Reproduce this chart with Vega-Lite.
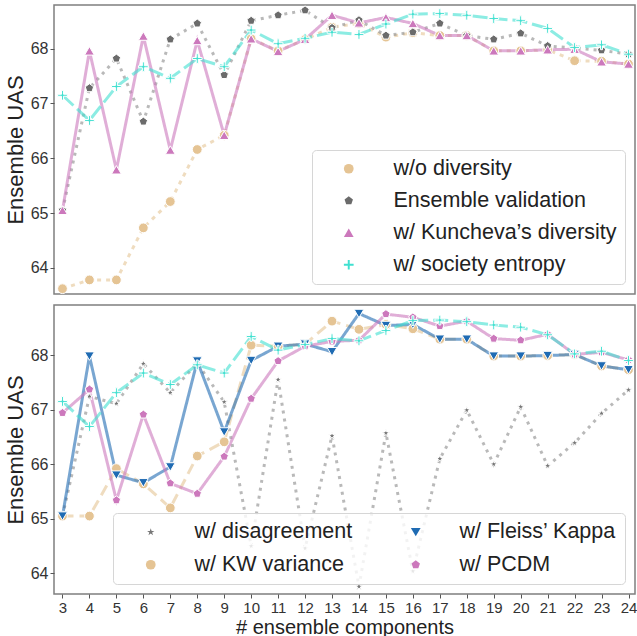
{
  "$schema": "https://vega.github.io/schema/vega-lite/v6.json",
  "padding": {"left": 3, "top": 3, "right": 0, "bottom": 0},
  "background": "white",
  "bounds": "flush",
  "config": {
    "font": "Liberation Sans",
    "view": {"stroke": "#7f7f7f", "strokeWidth": 1.5},
    "axis": {"labelFont": "Liberation Sans", "labelColor": "#333333", "tickColor": "#555555", "tickSize": 4, "domain": false, "grid": false, "titleFont": "Liberation Sans", "titleFontWeight": "normal", "titleColor": "#222222", "labelPadding": 2, "labelOverlap": false},
    "legend": {"labelFont": "Liberation Sans", "labelColor": "#222222", "labelFontSize": 21.5, "labelLimit": 400, "strokeColor": "#d6d6d6", "fillColor": "rgba(255,255,255,0.82)", "cornerRadius": 4, "padding": 8}
  },
  "datasets": {
    "a": [
      {"n": 3, "uas": 63.62, "method": "w/o diversity"},
      {"n": 4, "uas": 63.78, "method": "w/o diversity"},
      {"n": 5, "uas": 63.78, "method": "w/o diversity"},
      {"n": 6, "uas": 64.73, "method": "w/o diversity"},
      {"n": 7, "uas": 65.21, "method": "w/o diversity"},
      {"n": 8, "uas": 66.16, "method": "w/o diversity"},
      {"n": 9, "uas": 66.42, "method": "w/o diversity"},
      {"n": 10, "uas": 68.18, "method": "w/o diversity"},
      {"n": 11, "uas": 67.96, "method": "w/o diversity"},
      {"n": 12, "uas": 68.17, "method": "w/o diversity"},
      {"n": 13, "uas": 68.39, "method": "w/o diversity"},
      {"n": 14, "uas": 68.46, "method": "w/o diversity"},
      {"n": 15, "uas": 68.21, "method": "w/o diversity"},
      {"n": 16, "uas": 68.29, "method": "w/o diversity"},
      {"n": 17, "uas": 68.24, "method": "w/o diversity"},
      {"n": 18, "uas": 68.24, "method": "w/o diversity"},
      {"n": 19, "uas": 67.96, "method": "w/o diversity"},
      {"n": 20, "uas": 67.96, "method": "w/o diversity"},
      {"n": 21, "uas": 67.98, "method": "w/o diversity"},
      {"n": 22, "uas": 67.78, "method": "w/o diversity"},
      {"n": 23, "uas": 67.77, "method": "w/o diversity"},
      {"n": 24, "uas": 67.72, "method": "w/o diversity"},
      {"n": 3, "uas": 65.05, "method": "Ensemble validation"},
      {"n": 4, "uas": 67.28, "method": "Ensemble validation"},
      {"n": 5, "uas": 67.82, "method": "Ensemble validation"},
      {"n": 6, "uas": 66.67, "method": "Ensemble validation"},
      {"n": 7, "uas": 68.17, "method": "Ensemble validation"},
      {"n": 8, "uas": 68.46, "method": "Ensemble validation"},
      {"n": 9, "uas": 67.52, "method": "Ensemble validation"},
      {"n": 10, "uas": 68.51, "method": "Ensemble validation"},
      {"n": 11, "uas": 68.61, "method": "Ensemble validation"},
      {"n": 12, "uas": 68.70, "method": "Ensemble validation"},
      {"n": 13, "uas": 68.38, "method": "Ensemble validation"},
      {"n": 14, "uas": 68.52, "method": "Ensemble validation"},
      {"n": 15, "uas": 68.24, "method": "Ensemble validation"},
      {"n": 16, "uas": 68.30, "method": "Ensemble validation"},
      {"n": 17, "uas": 68.46, "method": "Ensemble validation"},
      {"n": 18, "uas": 68.24, "method": "Ensemble validation"},
      {"n": 19, "uas": 68.17, "method": "Ensemble validation"},
      {"n": 20, "uas": 68.28, "method": "Ensemble validation"},
      {"n": 21, "uas": 68.05, "method": "Ensemble validation"},
      {"n": 22, "uas": 68.01, "method": "Ensemble validation"},
      {"n": 23, "uas": 67.97, "method": "Ensemble validation"},
      {"n": 24, "uas": 67.90, "method": "Ensemble validation"},
      {"n": 3, "uas": 65.05, "method": "w/ Kuncheva’s diversity"},
      {"n": 4, "uas": 67.96, "method": "w/ Kuncheva’s diversity"},
      {"n": 5, "uas": 65.79, "method": "w/ Kuncheva’s diversity"},
      {"n": 6, "uas": 68.23, "method": "w/ Kuncheva’s diversity"},
      {"n": 7, "uas": 66.15, "method": "w/ Kuncheva’s diversity"},
      {"n": 8, "uas": 68.15, "method": "w/ Kuncheva’s diversity"},
      {"n": 9, "uas": 66.42, "method": "w/ Kuncheva’s diversity"},
      {"n": 10, "uas": 68.18, "method": "w/ Kuncheva’s diversity"},
      {"n": 11, "uas": 67.95, "method": "w/ Kuncheva’s diversity"},
      {"n": 12, "uas": 68.17, "method": "w/ Kuncheva’s diversity"},
      {"n": 13, "uas": 68.61, "method": "w/ Kuncheva’s diversity"},
      {"n": 14, "uas": 68.47, "method": "w/ Kuncheva’s diversity"},
      {"n": 15, "uas": 68.57, "method": "w/ Kuncheva’s diversity"},
      {"n": 16, "uas": 68.46, "method": "w/ Kuncheva’s diversity"},
      {"n": 17, "uas": 68.24, "method": "w/ Kuncheva’s diversity"},
      {"n": 18, "uas": 68.24, "method": "w/ Kuncheva’s diversity"},
      {"n": 19, "uas": 67.96, "method": "w/ Kuncheva’s diversity"},
      {"n": 20, "uas": 67.96, "method": "w/ Kuncheva’s diversity"},
      {"n": 21, "uas": 67.98, "method": "w/ Kuncheva’s diversity"},
      {"n": 22, "uas": 67.99, "method": "w/ Kuncheva’s diversity"},
      {"n": 23, "uas": 67.76, "method": "w/ Kuncheva’s diversity"},
      {"n": 24, "uas": 67.72, "method": "w/ Kuncheva’s diversity"},
      {"n": 3, "uas": 67.15, "method": "w/ society entropy"},
      {"n": 4, "uas": 66.69, "method": "w/ society entropy"},
      {"n": 5, "uas": 67.31, "method": "w/ society entropy"},
      {"n": 6, "uas": 67.67, "method": "w/ society entropy"},
      {"n": 7, "uas": 67.46, "method": "w/ society entropy"},
      {"n": 8, "uas": 67.82, "method": "w/ society entropy"},
      {"n": 9, "uas": 67.67, "method": "w/ society entropy"},
      {"n": 10, "uas": 68.34, "method": "w/ society entropy"},
      {"n": 11, "uas": 68.09, "method": "w/ society entropy"},
      {"n": 12, "uas": 68.19, "method": "w/ society entropy"},
      {"n": 13, "uas": 68.30, "method": "w/ society entropy"},
      {"n": 14, "uas": 68.26, "method": "w/ society entropy"},
      {"n": 15, "uas": 68.45, "method": "w/ society entropy"},
      {"n": 16, "uas": 68.63, "method": "w/ society entropy"},
      {"n": 17, "uas": 68.64, "method": "w/ society entropy"},
      {"n": 18, "uas": 68.61, "method": "w/ society entropy"},
      {"n": 19, "uas": 68.55, "method": "w/ society entropy"},
      {"n": 20, "uas": 68.51, "method": "w/ society entropy"},
      {"n": 21, "uas": 68.37, "method": "w/ society entropy"},
      {"n": 22, "uas": 68.02, "method": "w/ society entropy"},
      {"n": 23, "uas": 68.07, "method": "w/ society entropy"},
      {"n": 24, "uas": 67.90, "method": "w/ society entropy"}
    ],
    "b": [
      {"n": 3, "uas": 65.05, "methodB": "w/ disagreement"},
      {"n": 4, "uas": 67.24, "methodB": "w/ disagreement"},
      {"n": 5, "uas": 67.11, "methodB": "w/ disagreement"},
      {"n": 6, "uas": 67.84, "methodB": "w/ disagreement"},
      {"n": 7, "uas": 67.31, "methodB": "w/ disagreement"},
      {"n": 8, "uas": 67.85, "methodB": "w/ disagreement"},
      {"n": 9, "uas": 67.14, "methodB": "w/ disagreement"},
      {"n": 10, "uas": 64.50, "methodB": "w/ disagreement"},
      {"n": 11, "uas": 67.55, "methodB": "w/ disagreement"},
      {"n": 12, "uas": 64.46, "methodB": "w/ disagreement"},
      {"n": 13, "uas": 66.52, "methodB": "w/ disagreement"},
      {"n": 14, "uas": 63.76, "methodB": "w/ disagreement"},
      {"n": 15, "uas": 66.57, "methodB": "w/ disagreement"},
      {"n": 16, "uas": 64.04, "methodB": "w/ disagreement"},
      {"n": 17, "uas": 66.10, "methodB": "w/ disagreement"},
      {"n": 18, "uas": 66.99, "methodB": "w/ disagreement"},
      {"n": 19, "uas": 66.00, "methodB": "w/ disagreement"},
      {"n": 20, "uas": 67.05, "methodB": "w/ disagreement"},
      {"n": 21, "uas": 65.97, "methodB": "w/ disagreement"},
      {"n": 22, "uas": 66.39, "methodB": "w/ disagreement"},
      {"n": 23, "uas": 66.93, "methodB": "w/ disagreement"},
      {"n": 24, "uas": 67.36, "methodB": "w/ disagreement"},
      {"n": 3, "uas": 65.05, "methodB": "w/ KW variance"},
      {"n": 4, "uas": 65.05, "methodB": "w/ KW variance"},
      {"n": 5, "uas": 65.92, "methodB": "w/ KW variance"},
      {"n": 6, "uas": 65.64, "methodB": "w/ KW variance"},
      {"n": 7, "uas": 65.20, "methodB": "w/ KW variance"},
      {"n": 8, "uas": 66.15, "methodB": "w/ KW variance"},
      {"n": 9, "uas": 66.41, "methodB": "w/ KW variance"},
      {"n": 10, "uas": 68.18, "methodB": "w/ KW variance"},
      {"n": 11, "uas": 68.16, "methodB": "w/ KW variance"},
      {"n": 12, "uas": 68.20, "methodB": "w/ KW variance"},
      {"n": 13, "uas": 68.62, "methodB": "w/ KW variance"},
      {"n": 14, "uas": 68.47, "methodB": "w/ KW variance"},
      {"n": 15, "uas": 68.56, "methodB": "w/ KW variance"},
      {"n": 16, "uas": 68.48, "methodB": "w/ KW variance"},
      {"n": 17, "uas": 68.29, "methodB": "w/ KW variance"},
      {"n": 18, "uas": 68.29, "methodB": "w/ KW variance"},
      {"n": 19, "uas": 67.98, "methodB": "w/ KW variance"},
      {"n": 20, "uas": 67.98, "methodB": "w/ KW variance"},
      {"n": 21, "uas": 67.99, "methodB": "w/ KW variance"},
      {"n": 22, "uas": 68.01, "methodB": "w/ KW variance"},
      {"n": 23, "uas": 67.80, "methodB": "w/ KW variance"},
      {"n": 24, "uas": 67.73, "methodB": "w/ KW variance"},
      {"n": 3, "uas": 65.05, "methodB": "w/ Fleiss’ Kappa"},
      {"n": 4, "uas": 67.98, "methodB": "w/ Fleiss’ Kappa"},
      {"n": 5, "uas": 65.80, "methodB": "w/ Fleiss’ Kappa"},
      {"n": 6, "uas": 65.66, "methodB": "w/ Fleiss’ Kappa"},
      {"n": 7, "uas": 65.95, "methodB": "w/ Fleiss’ Kappa"},
      {"n": 8, "uas": 67.89, "methodB": "w/ Fleiss’ Kappa"},
      {"n": 9, "uas": 66.59, "methodB": "w/ Fleiss’ Kappa"},
      {"n": 10, "uas": 67.90, "methodB": "w/ Fleiss’ Kappa"},
      {"n": 11, "uas": 68.16, "methodB": "w/ Fleiss’ Kappa"},
      {"n": 12, "uas": 68.20, "methodB": "w/ Fleiss’ Kappa"},
      {"n": 13, "uas": 68.06, "methodB": "w/ Fleiss’ Kappa"},
      {"n": 14, "uas": 68.76, "methodB": "w/ Fleiss’ Kappa"},
      {"n": 15, "uas": 68.54, "methodB": "w/ Fleiss’ Kappa"},
      {"n": 16, "uas": 68.56, "methodB": "w/ Fleiss’ Kappa"},
      {"n": 17, "uas": 68.29, "methodB": "w/ Fleiss’ Kappa"},
      {"n": 18, "uas": 68.29, "methodB": "w/ Fleiss’ Kappa"},
      {"n": 19, "uas": 67.98, "methodB": "w/ Fleiss’ Kappa"},
      {"n": 20, "uas": 67.98, "methodB": "w/ Fleiss’ Kappa"},
      {"n": 21, "uas": 67.99, "methodB": "w/ Fleiss’ Kappa"},
      {"n": 22, "uas": 68.01, "methodB": "w/ Fleiss’ Kappa"},
      {"n": 23, "uas": 67.80, "methodB": "w/ Fleiss’ Kappa"},
      {"n": 24, "uas": 67.73, "methodB": "w/ Fleiss’ Kappa"},
      {"n": 3, "uas": 66.94, "methodB": "w/ PCDM"},
      {"n": 4, "uas": 67.37, "methodB": "w/ PCDM"},
      {"n": 5, "uas": 65.34, "methodB": "w/ PCDM"},
      {"n": 6, "uas": 66.91, "methodB": "w/ PCDM"},
      {"n": 7, "uas": 65.65, "methodB": "w/ PCDM"},
      {"n": 8, "uas": 65.46, "methodB": "w/ PCDM"},
      {"n": 9, "uas": 66.14, "methodB": "w/ PCDM"},
      {"n": 10, "uas": 67.20, "methodB": "w/ PCDM"},
      {"n": 11, "uas": 67.89, "methodB": "w/ PCDM"},
      {"n": 12, "uas": 68.16, "methodB": "w/ PCDM"},
      {"n": 13, "uas": 68.25, "methodB": "w/ PCDM"},
      {"n": 14, "uas": 68.27, "methodB": "w/ PCDM"},
      {"n": 15, "uas": 68.75, "methodB": "w/ PCDM"},
      {"n": 16, "uas": 68.69, "methodB": "w/ PCDM"},
      {"n": 17, "uas": 68.53, "methodB": "w/ PCDM"},
      {"n": 18, "uas": 68.62, "methodB": "w/ PCDM"},
      {"n": 19, "uas": 68.30, "methodB": "w/ PCDM"},
      {"n": 20, "uas": 68.27, "methodB": "w/ PCDM"},
      {"n": 21, "uas": 68.38, "methodB": "w/ PCDM"},
      {"n": 22, "uas": 68.01, "methodB": "w/ PCDM"},
      {"n": 23, "uas": 68.05, "methodB": "w/ PCDM"},
      {"n": 24, "uas": 67.91, "methodB": "w/ PCDM"},
      {"n": 3, "uas": 67.15, "methodB": "w/ society entropy"},
      {"n": 4, "uas": 66.69, "methodB": "w/ society entropy"},
      {"n": 5, "uas": 67.31, "methodB": "w/ society entropy"},
      {"n": 6, "uas": 67.67, "methodB": "w/ society entropy"},
      {"n": 7, "uas": 67.46, "methodB": "w/ society entropy"},
      {"n": 8, "uas": 67.82, "methodB": "w/ society entropy"},
      {"n": 9, "uas": 67.67, "methodB": "w/ society entropy"},
      {"n": 10, "uas": 68.34, "methodB": "w/ society entropy"},
      {"n": 11, "uas": 68.09, "methodB": "w/ society entropy"},
      {"n": 12, "uas": 68.19, "methodB": "w/ society entropy"},
      {"n": 13, "uas": 68.30, "methodB": "w/ society entropy"},
      {"n": 14, "uas": 68.26, "methodB": "w/ society entropy"},
      {"n": 15, "uas": 68.45, "methodB": "w/ society entropy"},
      {"n": 16, "uas": 68.63, "methodB": "w/ society entropy"},
      {"n": 17, "uas": 68.64, "methodB": "w/ society entropy"},
      {"n": 18, "uas": 68.61, "methodB": "w/ society entropy"},
      {"n": 19, "uas": 68.55, "methodB": "w/ society entropy"},
      {"n": 20, "uas": 68.51, "methodB": "w/ society entropy"},
      {"n": 21, "uas": 68.37, "methodB": "w/ society entropy"},
      {"n": 22, "uas": 68.02, "methodB": "w/ society entropy"},
      {"n": 23, "uas": 68.07, "methodB": "w/ society entropy"},
      {"n": 24, "uas": 67.90, "methodB": "w/ society entropy"}
    ],
    "labA": [{"t": "(a)"}],
    "labB": [{"t": "(b)"}]
  },
  "spacing": 11,
  "resolve": {
    "scale": {"y": "independent", "color": "independent", "shape": "independent", "stroke": "independent", "strokeDash": "independent"}
  },
  "vconcat": [
    {
      "width": 581,
      "height": 289,
      "encoding": {
        "x": {"field": "n", "type": "quantitative", "scale": {"domain": [2.685, 24.241], "nice": false, "zero": false}, "axis": null},
        "y": {"field": "uas", "type": "quantitative", "scale": {"domain": [63.523, 68.797], "nice": false, "zero": false}, "axis": {"values": [64, 65, 66, 67, 68], "format": "d", "title": "Ensemble UAS", "titleFontSize": 22, "labelFontSize": 16, "titlePadding": 3}}
      },
      "layer": [
        {
          "data": {"name": "a"},
          "mark": {"type": "line", "strokeWidth": 3, "opacity": 0.6},
          "encoding": {
            "stroke": {"field": "method", "type": "nominal", "scale": {"domain": ["w/ society entropy", "w/ Kuncheva’s diversity", "Ensemble validation", "w/o diversity"], "range": ["#40e0d0", "#cc78bc", "#8a8a8a", "#e5c494"]}, "legend": null},
            "strokeDash": {"field": "method", "type": "nominal", "scale": {"domain": ["w/ society entropy", "w/ Kuncheva’s diversity", "Ensemble validation", "w/o diversity"], "range": [[15, 5], [1, 0], [3, 5], [4, 5]]}, "legend": null}
          }
        },
        {
          "data": {"name": "a"},
          "mark": {"type": "point", "filled": true, "size": 95, "stroke": "white", "strokeWidth": 1, "opacity": 1},
          "encoding": {
            "color": {"field": "method", "type": "nominal", "scale": {"domain": ["w/o diversity", "Ensemble validation", "w/ Kuncheva’s diversity", "w/ society entropy"], "range": ["#e5c494", "#6b6b6b", "#cc78bc", "#40e0d0"]},
              "legend": {"title": null, "orient": "bottom-right", "offset": 10, "rowPadding": 9, "symbolSize": 95, "symbolOffset": 18, "labelOffset": 34, "symbolStrokeWidth": 0}},
            "shape": {"field": "method", "type": "nominal", "scale": {"domain": ["w/o diversity", "Ensemble validation", "w/ Kuncheva’s diversity", "w/ society entropy"], "range": ["circle", "M0,-0.9L0.856,-0.278L0.529,0.728L-0.529,0.728L-0.856,-0.278Z", "triangle-up", "M-0.2,-1H0.2V-0.2H1V0.2H0.2V1H-0.2V0.2H-1V-0.2H-0.2Z"]},
              "legend": {"title": null, "orient": "bottom-right", "offset": 10, "rowPadding": 9, "symbolSize": 95, "symbolOffset": 18, "labelOffset": 34, "symbolStrokeWidth": 0}}
          }
        },
        {
          "data": {"name": "labA"},
          "mark": {"type": "rect", "fill": "white", "stroke": "#7f7f7f", "strokeWidth": 1.5},
          "encoding": {
            "x": {"datum": 2.685, "type": "quantitative", "axis": null},
            "x2": {"datum": 4.169},
            "y": {"datum": 68.797, "type": "quantitative", "axis": {"values": [64, 65, 66, 67, 68], "format": "d", "title": "Ensemble UAS", "titleFontSize": 22, "labelFontSize": 16, "titlePadding": 3}},
            "y2": {"datum": 68.18}
          }
        },
        {
          "data": {"name": "labA"},
          "mark": {"type": "text", "fontSize": 23, "font": "Liberation Sans", "color": "#222222", "align": "center", "baseline": "middle"},
          "encoding": {
            "x": {"datum": 3.427, "type": "quantitative", "axis": null},
            "y": {"datum": 68.487, "type": "quantitative", "axis": {"values": [64, 65, 66, 67, 68], "format": "d", "title": "Ensemble UAS", "titleFontSize": 22, "labelFontSize": 16, "titlePadding": 3}},
            "text": {"field": "t"}
          }
        }
      ]
    },
    {
      "width": 581,
      "height": 289,
      "encoding": {
        "x": {"field": "n", "type": "quantitative", "scale": {"domain": [2.685, 24.241], "nice": false, "zero": false}, "axis": {"values": [3,4,5,6,7,8,9,10,11,12,13,14,15,16,17,18,19,20,21,22,23,24], "format": "d", "labelOverlap": false, "labelFlush": false, "title": "# ensemble components", "titleFontSize": 20, "labelFontSize": 15, "titlePadding": 2}},
        "y": {"field": "uas", "type": "quantitative", "scale": {"domain": [63.623, 68.916], "nice": false, "zero": false}, "axis": {"values": [64, 65, 66, 67, 68], "format": "d", "title": "Ensemble UAS", "titleFontSize": 22, "labelFontSize": 16, "titlePadding": 3}}
      },
      "layer": [
        {
          "data": {"name": "b"},
          "mark": {"type": "line", "strokeWidth": 3, "opacity": 0.6},
          "encoding": {
            "stroke": {"field": "methodB", "type": "nominal", "scale": {"domain": ["w/ society entropy", "w/ PCDM", "w/ KW variance", "w/ Fleiss’ Kappa", "w/ disagreement"], "range": ["#40e0d0", "#cc78bc", "#e5c494", "#1f6bb3", "#8a8a8a"]}, "legend": null},
            "strokeDash": {"field": "methodB", "type": "nominal", "scale": {"domain": ["w/ society entropy", "w/ PCDM", "w/ KW variance", "w/ Fleiss’ Kappa", "w/ disagreement"], "range": [[15, 5], [1, 0], [11, 6], [1, 0], [3, 5]]}, "legend": null}
          }
        },
        {
          "data": {"name": "b"},
          "mark": {"type": "point", "filled": true, "size": 95, "stroke": "white", "strokeWidth": 1, "opacity": 1},
          "encoding": {
            "color": {"field": "methodB", "type": "nominal", "scale": {"domain": ["w/ disagreement", "w/ KW variance", "w/ Fleiss’ Kappa", "w/ PCDM", "w/ society entropy"], "range": ["#777777", "#e5c494", "#1f6bb3", "#cc78bc", "#40e0d0"]},
              "legend": {"title": null, "orient": "bottom-right", "offset": 10, "columns": 2, "columnPadding": 33, "rowPadding": 10, "symbolSize": 95, "symbolOffset": 19, "labelOffset": 33, "symbolStrokeWidth": 0, "values": ["w/ disagreement", "w/ KW variance", "w/ Fleiss’ Kappa", "w/ PCDM"]}},
            "shape": {"field": "methodB", "type": "nominal", "scale": {"domain": ["w/ disagreement", "w/ KW variance", "w/ Fleiss’ Kappa", "w/ PCDM", "w/ society entropy"], "range": ["M0,-0.8L0.18,-0.247L0.761,-0.247L0.29,0.094L0.47,0.647L0,0.306L-0.47,0.647L-0.29,0.094L-0.761,-0.247L-0.18,-0.247Z", "circle", "triangle-down", "M0,-0.9L0.856,-0.278L0.529,0.728L-0.529,0.728L-0.856,-0.278Z", "M-0.2,-1H0.2V-0.2H1V0.2H0.2V1H-0.2V0.2H-1V-0.2H-0.2Z"]},
              "legend": {"title": null, "orient": "bottom-right", "offset": 10, "columns": 2, "columnPadding": 33, "rowPadding": 10, "symbolSize": 95, "symbolOffset": 19, "labelOffset": 33, "symbolStrokeWidth": 0, "values": ["w/ disagreement", "w/ KW variance", "w/ Fleiss’ Kappa", "w/ PCDM"]}}
          }
        },
        {
          "data": {"name": "labB"},
          "mark": {"type": "rect", "fill": "white", "stroke": "#7f7f7f", "strokeWidth": 1.5},
          "encoding": {
            "x": {"datum": 2.685, "type": "quantitative", "axis": {"values": [3,4,5,6,7,8,9,10,11,12,13,14,15,16,17,18,19,20,21,22,23,24], "format": "d", "labelOverlap": false, "labelFlush": false, "title": "# ensemble components", "titleFontSize": 20, "labelFontSize": 15, "titlePadding": 2}},
            "x2": {"datum": 4.169},
            "y": {"datum": 68.916, "type": "quantitative", "axis": {"values": [64, 65, 66, 67, 68], "format": "d", "title": "Ensemble UAS", "titleFontSize": 22, "labelFontSize": 16, "titlePadding": 3}},
            "y2": {"datum": 68.30}
          }
        },
        {
          "data": {"name": "labB"},
          "mark": {"type": "text", "fontSize": 23, "font": "Liberation Sans", "color": "#222222", "align": "center", "baseline": "middle"},
          "encoding": {
            "x": {"datum": 3.427, "type": "quantitative", "axis": {"values": [3,4,5,6,7,8,9,10,11,12,13,14,15,16,17,18,19,20,21,22,23,24], "format": "d", "labelOverlap": false, "labelFlush": false, "title": "# ensemble components", "titleFontSize": 20, "labelFontSize": 15, "titlePadding": 2}},
            "y": {"datum": 68.59, "type": "quantitative", "axis": {"values": [64, 65, 66, 67, 68], "format": "d", "title": "Ensemble UAS", "titleFontSize": 22, "labelFontSize": 16, "titlePadding": 3}},
            "text": {"field": "t"}
          }
        }
      ]
    }
  ]
}
